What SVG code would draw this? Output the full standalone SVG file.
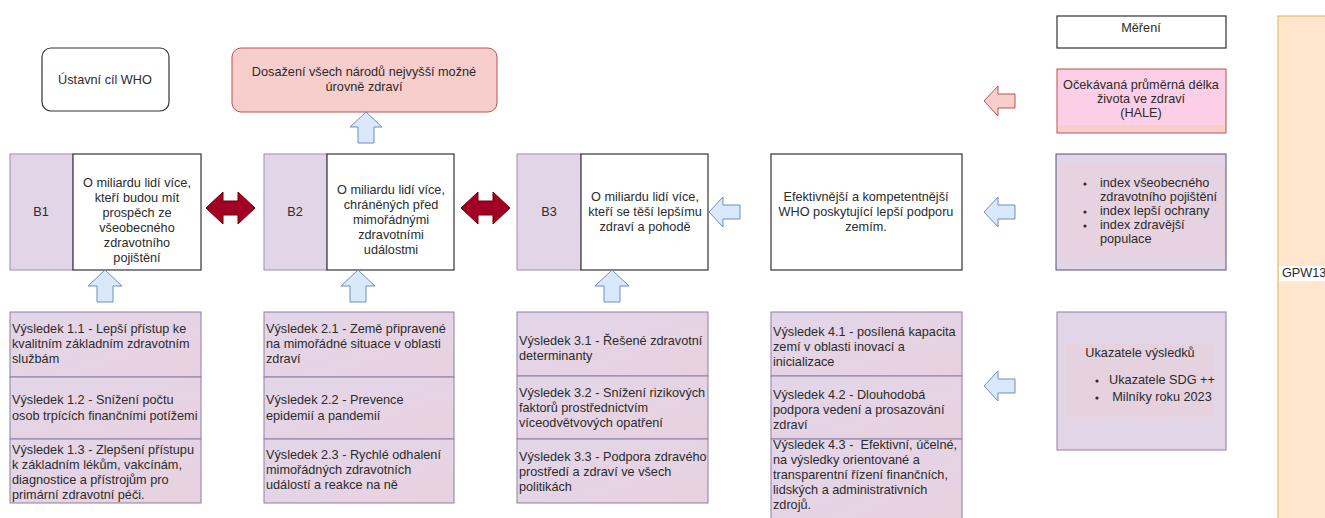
<svg xmlns="http://www.w3.org/2000/svg" width="1325" height="518" viewBox="0 0 1325 518">
<defs>
<style>
text{font-family:"Liberation Sans",Arial,Helvetica,sans-serif;font-size:12.7px;fill:#2b2b2b}
.c{text-anchor:middle}
.white{fill:#ffffff;stroke:#333333;stroke-width:1.2}
.purp{fill:#e1d5e7;stroke:#9a8fb0;stroke-width:1}
.res{fill:url(#resg);stroke:#8c7fa5;stroke-width:1}
.blue{fill:#dae8fc;stroke:#6c8ebf;stroke-width:1}
.red{fill:#a20025;stroke:#6f0000;stroke-width:1}
.pink{fill:#f8cecc;stroke:#b85450;stroke-width:1}
</style>
<linearGradient id="resg" x1="0" y1="0" x2="1" y2="1">
<stop offset="0" stop-color="#e2d6e9"/>
<stop offset="1" stop-color="#e8d1df"/>
</linearGradient>
</defs>
<rect width="1325" height="518" fill="#ffffff"/>

<g id="gpw13">
<rect x="1278" y="16" width="60" height="520" fill="#ffe6cc" stroke="#d6b656" stroke-width="1"/>
<rect x="1279" y="266" width="46" height="15" fill="#ffffff"/>
<text x="1282" y="277">GPW13</text>
</g>

<g id="ustavni">
<rect x="42" y="48" width="127" height="63" rx="9" class="white"/>
<text x="105" y="84" class="c">Ústavní cíl WHO</text>
</g>

<g id="dosazeni">
<rect x="232" y="48" width="265" height="64" rx="9" class="pink"/>
<text x="364" y="76" class="c">Dosažení všech národů nejvyšší možné</text>
<text x="364" y="91" class="c">úrovně zdraví</text>
</g>

<g id="mereni">
<rect x="1057" y="16" width="169" height="32" class="white"/>
<text x="1141" y="32" class="c">Měření</text>
</g>

<g id="hale">
<rect x="1057" y="69" width="169" height="64" class="pink"/>
<rect x="1058" y="70" width="167" height="55" fill="#fdcfe6"/>
<text x="1141" y="89" class="c">Očekávaná průměrná délka</text>
<text x="1141" y="103" class="c">života ve zdraví</text>
<text x="1141" y="117" class="c">(HALE)</text>
</g>

<g id="b1">
<rect x="10" y="154" width="63" height="116" class="purp"/>
<rect x="73" y="154" width="128" height="116" class="white"/>
<text x="41" y="216" class="c">B1</text>
<text x="137" y="187" class="c">O miliardu lidí více,</text>
<text x="137" y="202" class="c">kteří budou mít</text>
<text x="137" y="217" class="c">prospěch ze</text>
<text x="137" y="232" class="c">všeobecného</text>
<text x="137" y="247" class="c">zdravotního</text>
<text x="137" y="262" class="c">pojištění</text>
</g>

<g id="b2">
<rect x="264" y="154" width="63" height="116" class="purp"/>
<rect x="327" y="154" width="127" height="116" class="white"/>
<text x="295" y="216" class="c">B2</text>
<text x="391" y="194" class="c">O miliardu lidí více,</text>
<text x="391" y="209" class="c">chráněných před</text>
<text x="391" y="224" class="c">mimořádnými</text>
<text x="391" y="239" class="c">zdravotními</text>
<text x="391" y="254" class="c">událostmi</text>
</g>

<g id="b3">
<rect x="517" y="154" width="64" height="116" class="purp"/>
<rect x="581" y="154" width="127" height="116" class="white"/>
<text x="549" y="216" class="c">B3</text>
<text x="645" y="201" class="c">O miliardu lidí více,</text>
<text x="645" y="216" class="c">kteří se těší lepšímu</text>
<text x="645" y="231" class="c">zdraví a pohodě</text>
</g>

<g id="efektiv">
<rect x="771" y="154" width="191" height="116" class="white"/>
<text x="866" y="201" class="c">Efektivnější a kompetentnější</text>
<text x="866" y="216" class="c">WHO poskytující lepší podporu</text>
<text x="866" y="231" class="c">zemím.</text>
</g>

<g id="indexy">
<rect x="1056" y="154" width="170" height="116" fill="#e1d5e7" stroke="#56517e" stroke-width="1"/>
<rect x="1057" y="163" width="168" height="99" fill="#e6d2e1"/>
<circle cx="1085" cy="184" r="1.6" fill="#2b2b2b"/>
<circle cx="1085" cy="212" r="1.6" fill="#2b2b2b"/>
<circle cx="1085" cy="226" r="1.6" fill="#2b2b2b"/>
<text x="1100" y="187">index všeobecného</text>
<text x="1100" y="201">zdravotního pojištění</text>
<text x="1100" y="215">index lepší ochrany</text>
<text x="1100" y="229">index zdravější</text>
<text x="1100" y="243">populace</text>
</g>

<g id="vysledky1">
<rect x="10" y="312" width="191" height="65" class="res"/>
<rect x="10" y="377" width="191" height="62" class="res"/>
<rect x="10" y="439" width="191" height="64" class="res"/>
<text x="12" y="333">Výsledek 1.1 - Lepší přístup ke</text>
<text x="12" y="348">kvalitním základním zdravotním</text>
<text x="12" y="363">službám</text>
<text x="12" y="404">Výsledek 1.2 - Snížení počtu</text>
<text x="12" y="420">osob trpících finančními potížemi</text>
<text x="12" y="454">Výsledek 1.3 - Zlepšení přístupu</text>
<text x="12" y="469">k základním lékům, vakcínám,</text>
<text x="12" y="484">diagnostice a přístrojům pro</text>
<text x="12" y="499">primární zdravotní péči.</text>
</g>

<g id="vysledky2">
<rect x="264" y="312" width="190" height="65" class="res"/>
<rect x="264" y="377" width="190" height="62" class="res"/>
<rect x="264" y="439" width="190" height="64" class="res"/>
<text x="266" y="333">Výsledek 2.1 - Země připravené</text>
<text x="266" y="348">na mimořádné situace v oblasti</text>
<text x="266" y="363">zdraví</text>
<text x="266" y="404">Výsledek 2.2 - Prevence</text>
<text x="266" y="420">epidemií a pandemií</text>
<text x="266" y="459">Výsledek 2.3 - Rychlé odhalení</text>
<text x="266" y="474">mimořádných zdravotních</text>
<text x="266" y="489">událostí a reakce na ně</text>
</g>

<g id="vysledky3">
<rect x="517" y="312" width="191" height="64" class="res"/>
<rect x="517" y="376" width="191" height="63" class="res"/>
<rect x="517" y="439" width="191" height="64" class="res"/>
<text x="519" y="345">Výsledek 3.1 - Řešené zdravotní</text>
<text x="519" y="360">determinanty</text>
<text x="519" y="397">Výsledek 3.2 - Snížení rizikových</text>
<text x="519" y="412">faktorů prostřednictvím</text>
<text x="519" y="427">víceodvětvových opatření</text>
<text x="519" y="461">Výsledek 3.3 - Podpora zdravého</text>
<text x="519" y="476">prostředí a zdraví ve všech</text>
<text x="519" y="491">politikách</text>
</g>

<g id="vysledky4">
<rect x="771" y="312" width="191" height="64" class="res"/>
<rect x="771" y="376" width="191" height="63" class="res"/>
<rect x="771" y="439" width="191" height="90" class="res"/>
<text x="773" y="336">Výsledek 4.1 - posílená kapacita</text>
<text x="773" y="351">zemí v oblasti inovací a</text>
<text x="773" y="366">inicializace</text>
<text x="773" y="399">Výsledek 4.2 - Dlouhodobá</text>
<text x="773" y="414">podpora vedení a prosazování</text>
<text x="773" y="429">zdraví</text>
<text x="773" y="449" xml:space="preserve">Výsledek 4.3 -  Efektivní, účelné,</text>
<text x="773" y="464">na výsledky orientované a</text>
<text x="773" y="479">transparentní řízení finančních,</text>
<text x="773" y="494">lidských a administrativních</text>
<text x="773" y="509">zdrojů.</text>
</g>

<g id="ukazatele">
<rect x="1057" y="312" width="169" height="138" fill="#e1d5e7" stroke="#8c7fa5" stroke-width="1"/>
<rect x="1066" y="344" width="147" height="73" fill="#e6d1df"/>
<text x="1140" y="357" class="c">Ukazatele výsledků</text>
<circle cx="1097" cy="381" r="1.6" fill="#2b2b2b"/>
<circle cx="1097" cy="398" r="1.6" fill="#2b2b2b"/>
<text x="1162" y="384" class="c">Ukazatele SDG ++</text>
<text x="1162" y="401" class="c">Milníky roku 2023</text>
</g>

<g id="connectors">
<polygon class="red" points="206,208 223,192 223,201 238,201 238,192 255,208 238,224 238,215 223,215 223,224"/>
<polygon class="red" points="461,208 478,192 478,201 493,201 493,192 510,208 493,224 493,215 478,215 478,224"/>
<polygon class="blue" points="366,112 382,127 374,127 374,143 358,143 358,127 350,127"/>
<polygon class="blue" points="105,270 122,286 113,286 113,302 97,302 97,286 88,286"/>
<polygon class="blue" points="358,270 375,286 366,286 366,302 350,302 350,286 341,286"/>
<polygon class="blue" points="612,270 629,286 620,286 620,302 604,302 604,286 595,286"/>
<polygon class="blue" points="709,212 723,197 723,205 740,205 740,219 723,219 723,227"/>
<polygon class="blue" points="984,212 998,197 998,205 1015,205 1015,219 998,219 998,227"/>
<polygon class="pink" points="984,101 998,86 998,94 1015,94 1015,108 998,108 998,116"/>
<polygon class="blue" points="984,386 998,371 998,379 1015,379 1015,393 998,393 998,401"/>
</g>
</svg>
